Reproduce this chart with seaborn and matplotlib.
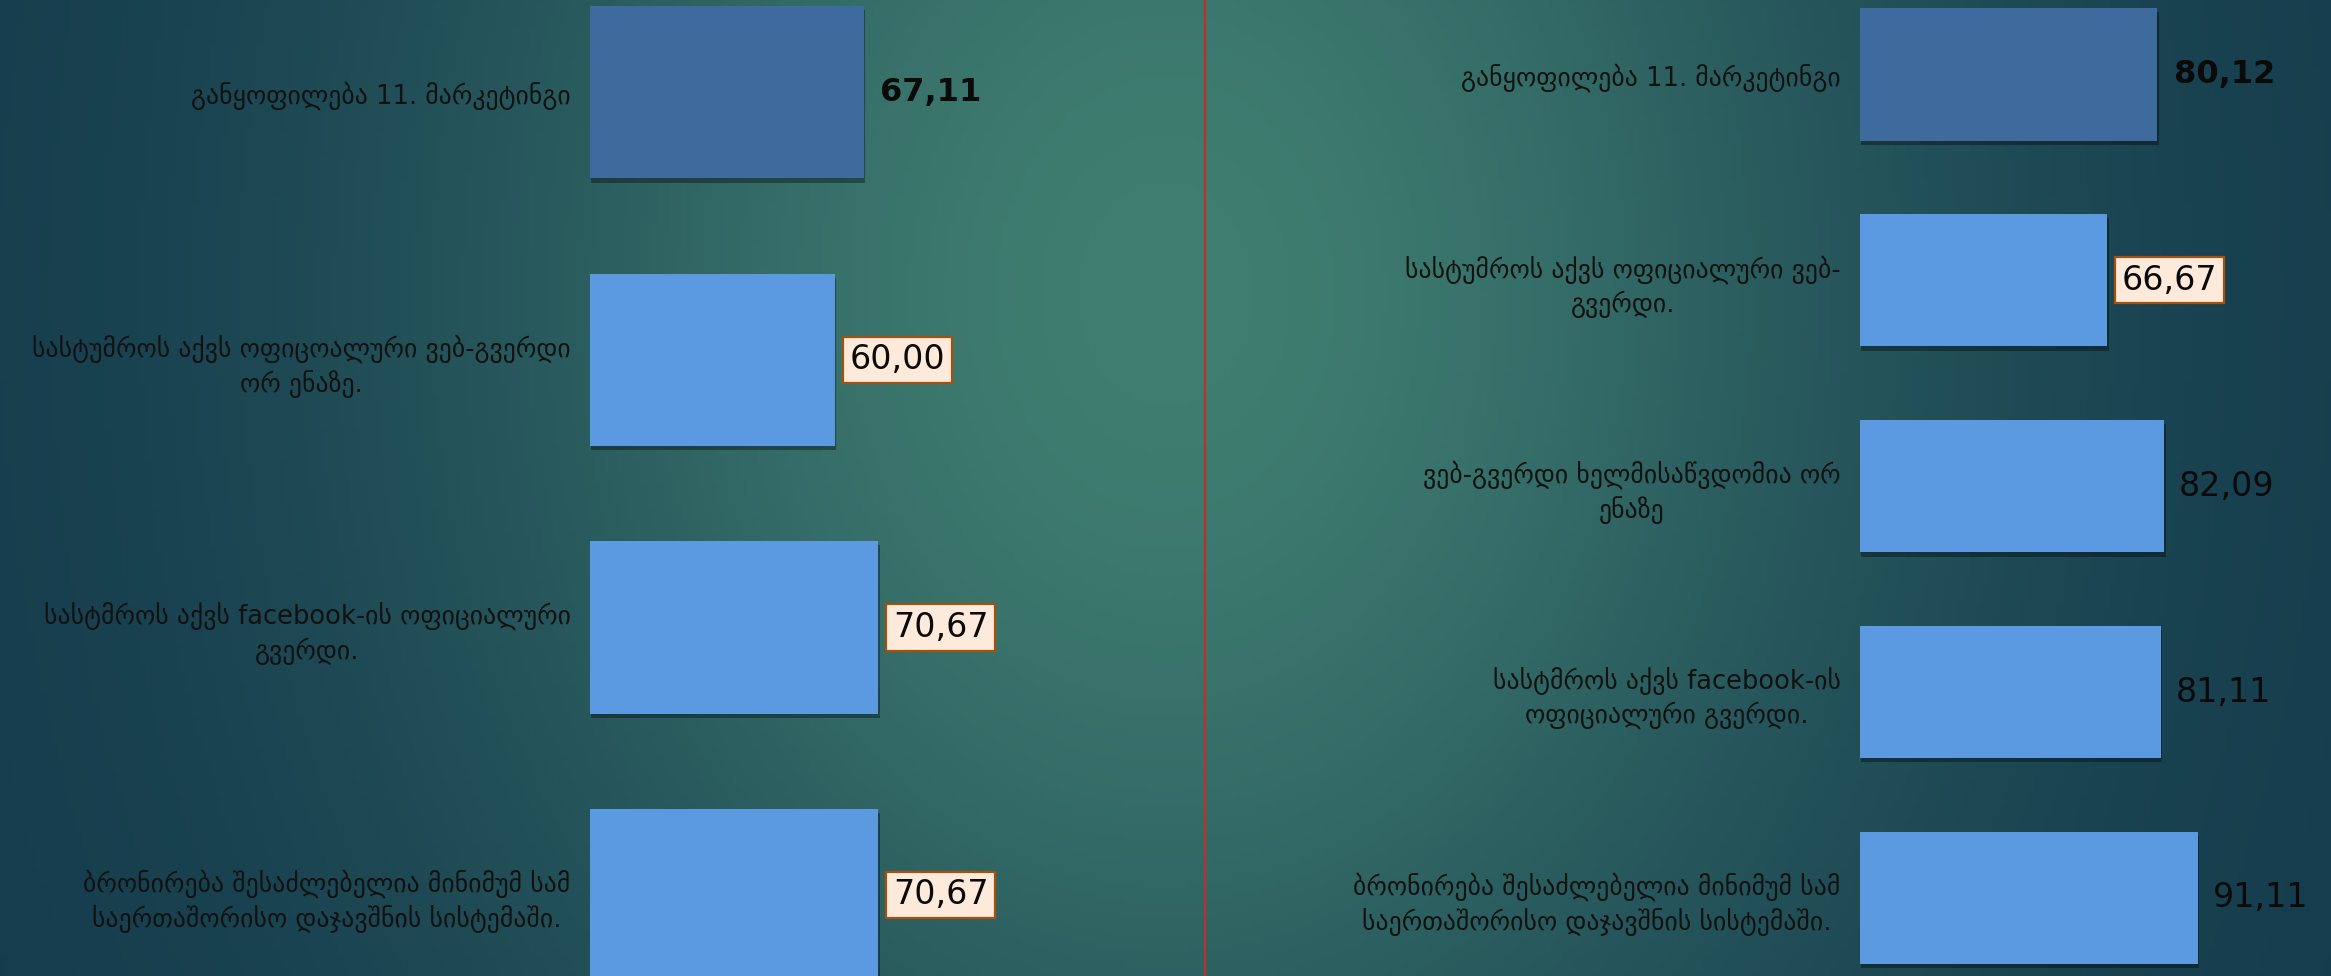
import numpy as np
import matplotlib
matplotlib.use("Agg")
import matplotlib.pyplot as plt
import matplotlib.patheffects as pe
from matplotlib.lines import Line2D
import seaborn as sns

# left panel data
left_labels = [
    "განყოფილება 11. მარკეტინგი",
    "სასტუმროს აქვს ოფიცოალური ვებ-გვერდი\nორ ენაზე.",
    "სასტმროს აქვს facebook-ის ოფიციალური\nგვერდი.",
    "ბრონირება შესაძლებელია მინიმუმ სამ\nსაერთაშორისო დაჯავშნის სისტემაში.",
]
left_values = [67.11, 60.00, 70.67, 70.67]
left_text = ["67,11", "60,00", "70,67", "70,67"]
left_boxed = [False, True, True, True]

# right panel data
right_labels = [
    "განყოფილება 11. მარკეტინგი",
    "სასტუმროს აქვს ოფიციალური ვებ-\nგვერდი.",
    "ვებ-გვერდი ხელმისაწვდომია ორ\nენაზე",
    "სასტმროს აქვს facebook-ის\nოფიციალური გვერდი.",
    "ბრონირება შესაძლებელია მინიმუმ სამ\nსაერთაშორისო დაჯავშნის სისტემაში.",
]
right_values = [80.12, 66.67, 82.09, 81.11, 91.11]
right_text = ["80,12", "66,67", "82,09", "81,11", "91,11"]
right_boxed = [False, True, False, False, False]

W, H = 2331, 976
sns.set_style("white")
plt.rcParams["font.family"] = ["DejaVu Sans"]

fig = plt.figure(figsize=(W / 100, H / 100), dpi=100)

# teal gradient background
bg = fig.add_axes([0, 0, 1, 1], zorder=-10)
gx, gy = np.meshgrid(np.linspace(0, 1, 400), np.linspace(0, 1, 200))
w = np.exp(-((gx - 0.5) / 0.31) ** 2 - ((gy - 0.3) / 0.95) ** 2)
dark = np.array([20, 58, 76]) / 255
light = np.array([64, 126, 113]) / 255
img = dark[None, None, :] * (1 - w[..., None]) + light[None, None, :] * w[..., None]
bg.imshow(img, aspect="auto", extent=[0, 1, 1, 0])
bg.axis("off")

dark_bar = "#3F6A9D"
light_bar = "#5B9AE0"
shadow = [pe.SimplePatchShadow(offset=(1, -3), shadow_rgbFace="black", alpha=0.35), pe.Normal()]


def panel(rect, labels, values, texts, boxed, xmax, ylim, width):
    ax = fig.add_axes(rect)
    ax.patch.set_alpha(0)
    colors = [dark_bar] + [light_bar] * (len(labels) - 1)
    sns.barplot(x=values, y=labels, hue=labels, palette=colors, orient="h",
                width=width, saturation=1, legend=False, linewidth=0, ax=ax)
    for p in ax.patches:
        p.set_path_effects(shadow)
    ax.set_xlim(0, xmax)
    ax.set_ylim(*ylim)
    ax.set_xlabel("")
    ax.set_ylabel("")
    ax.xaxis.set_visible(False)
    for s in ax.spines.values():
        s.set_visible(False)
    ax.tick_params(axis="y", length=0, pad=14)
    for t in ax.get_yticklabels():
        t.set_fontsize(18.5)
        t.set_multialignment("center")
        t.set_linespacing(1.3)
        t.set_color("#111111")
    for i, (v, t, b) in enumerate(zip(values, texts, boxed)):
        if i == 0:
            ax.annotate(t, (v, i), xytext=(12, 0), textcoords="offset points",
                        va="center", ha="left", fontsize=23, fontweight="bold", color="#0a0a0a")
        elif b:
            ax.annotate(t, (v, i), xytext=(10.5, 0), textcoords="offset points",
                        va="center", ha="left", fontsize=24, color="#0a0a0a",
                        bbox=dict(boxstyle="square,pad=0.2", fc="#FDEADA", ec="#A4500F", lw=1.6))
        else:
            ax.annotate(t, (v, i), xytext=(10.5, 0), textcoords="offset points",
                        va="center", ha="left", fontsize=24, color="#0a0a0a")
    return ax


panel([590 / W, 0, 614 / W, 1], left_labels, left_values, left_text, left_boxed,
      150.5, (3.3027, -0.3446), 0.644)
panel([1860 / W, 0, 471 / W, 1], right_labels, right_values, right_text, right_boxed,
      127, (4.379, -0.361), 0.643)

# red divider
fig.add_artist(Line2D([1205 / W] * 2, [0, 1], transform=fig.transFigure,
                      color="#C0302A", lw=1.6))

fig.savefig("out.png", dpi=100)
